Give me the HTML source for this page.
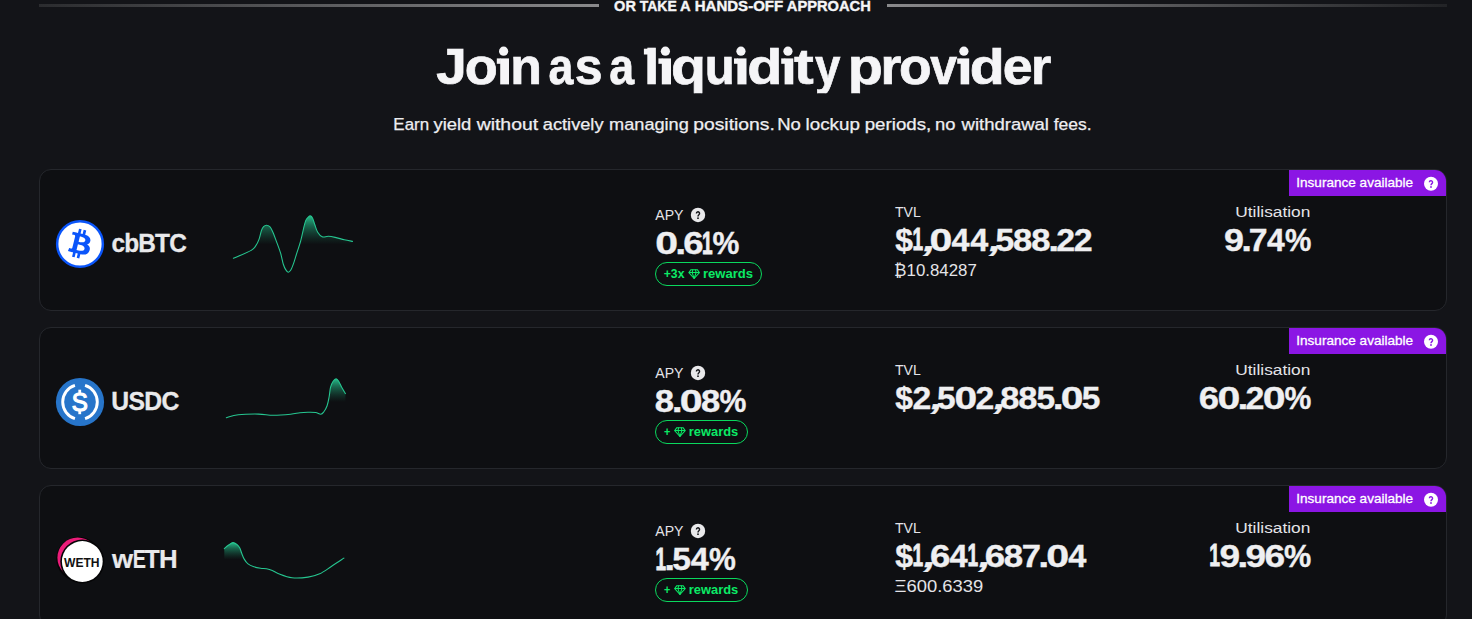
<!DOCTYPE html>
<html><head><meta charset="utf-8">
<style>
*{box-sizing:border-box;margin:0;padding:0}
html,body{width:1472px;height:619px;overflow:hidden;background:#131418;font-family:"Liberation Sans",sans-serif;color:#f2f2f4}
.t{position:absolute;white-space:pre;line-height:1;transform-origin:0 0;font-family:"Liberation Sans",sans-serif}
.abs{position:absolute}
.divl{position:absolute;top:4px;height:3px}
.card{position:absolute;left:39px;width:1408px;height:142px;background:#0e0f12;border:1px solid #25272c;border-radius:12px}
.ins{position:absolute;left:1289px;width:157px;height:26px;background:#8b16e4;border-top-right-radius:11px}
.q{position:absolute;border-radius:50%;background:#ededef}
.pill{position:absolute;height:24.5px;border:1.3px solid #0ad85d;border-radius:12.5px}
svg{position:absolute;overflow:visible}
</style></head><body>
<div class="divl" style="left:39px;width:560px;background:linear-gradient(90deg,#2b2c2f,#8a8a8c)"></div>
<div class="divl" style="left:887px;width:560px;background:linear-gradient(90deg,#8a8a8c,#222326)"></div>

<div class="card" style="top:169px"></div>
<div class="card" style="top:327px"></div>
<div class="card" style="top:485px"></div>
<div class="ins" style="top:170px"></div>
<div class="ins" style="top:328px"></div>
<div class="ins" style="top:486px"></div>
<div class="pill" style="left:654.9px;top:261.7px;width:107.1px"></div><div class="pill" style="left:654.7px;top:419.7px;width:92.9px"></div><div class="pill" style="left:654.7px;top:577.7px;width:92.9px"></div><svg width="1472" height="619" viewBox="0 0 1472 619" style="left:0;top:0">
<defs><linearGradient id="g1" gradientUnits="userSpaceOnUse" x1="0" y1="215.90" x2="0" y2="244.50"><stop offset="0" stop-color="#2bd49c" stop-opacity="0.88"/><stop offset="0.35" stop-color="#1f9f74" stop-opacity="0.6"/><stop offset="1" stop-color="#17694e" stop-opacity="0"/></linearGradient></defs><path d="M233.40,258.30 C236.37,256.98 247.48,252.47 251.20,250.40 C254.92,248.33 254.38,247.78 255.70,245.90 C257.02,244.02 258.15,241.65 259.10,239.10 C260.05,236.55 260.65,232.67 261.40,230.60 C262.15,228.53 262.77,227.60 263.60,226.70 C264.43,225.80 265.37,225.20 266.40,225.20 C267.43,225.20 268.75,225.62 269.80,226.70 C270.85,227.78 271.57,229.17 272.70,231.70 C273.83,234.23 275.28,238.32 276.60,241.90 C277.92,245.48 279.47,249.43 280.60,253.20 C281.73,256.97 282.55,261.77 283.40,264.50 C284.25,267.23 284.90,268.32 285.70,269.60 C286.50,270.88 287.35,272.13 288.20,272.20 C289.05,272.27 289.90,271.47 290.80,270.00 C291.70,268.53 292.78,265.63 293.60,263.40 C294.42,261.17 294.52,260.37 295.70,256.60 C296.88,252.83 299.38,245.50 300.70,240.80 C302.02,236.10 302.75,231.80 303.60,228.40 C304.45,225.00 305.05,222.25 305.80,220.40 C306.55,218.55 307.33,218.05 308.10,217.30 C308.87,216.55 309.65,215.75 310.40,215.90 C311.15,216.05 311.85,216.68 312.60,218.20 C313.35,219.72 314.05,222.65 314.90,225.00 C315.75,227.35 316.48,230.33 317.70,232.30 C318.92,234.27 320.42,236.13 322.20,236.80 C323.98,237.47 326.23,236.20 328.40,236.30 C330.57,236.40 332.55,236.83 335.20,237.40 C337.85,237.97 341.42,239.03 344.30,239.70 C347.18,240.37 351.13,241.12 352.50,241.40 L352.50,272.20 L233.40,272.20 Z" fill="url(#g1)"/><path d="M233.40,258.30 C236.37,256.98 247.48,252.47 251.20,250.40 C254.92,248.33 254.38,247.78 255.70,245.90 C257.02,244.02 258.15,241.65 259.10,239.10 C260.05,236.55 260.65,232.67 261.40,230.60 C262.15,228.53 262.77,227.60 263.60,226.70 C264.43,225.80 265.37,225.20 266.40,225.20 C267.43,225.20 268.75,225.62 269.80,226.70 C270.85,227.78 271.57,229.17 272.70,231.70 C273.83,234.23 275.28,238.32 276.60,241.90 C277.92,245.48 279.47,249.43 280.60,253.20 C281.73,256.97 282.55,261.77 283.40,264.50 C284.25,267.23 284.90,268.32 285.70,269.60 C286.50,270.88 287.35,272.13 288.20,272.20 C289.05,272.27 289.90,271.47 290.80,270.00 C291.70,268.53 292.78,265.63 293.60,263.40 C294.42,261.17 294.52,260.37 295.70,256.60 C296.88,252.83 299.38,245.50 300.70,240.80 C302.02,236.10 302.75,231.80 303.60,228.40 C304.45,225.00 305.05,222.25 305.80,220.40 C306.55,218.55 307.33,218.05 308.10,217.30 C308.87,216.55 309.65,215.75 310.40,215.90 C311.15,216.05 311.85,216.68 312.60,218.20 C313.35,219.72 314.05,222.65 314.90,225.00 C315.75,227.35 316.48,230.33 317.70,232.30 C318.92,234.27 320.42,236.13 322.20,236.80 C323.98,237.47 326.23,236.20 328.40,236.30 C330.57,236.40 332.55,236.83 335.20,237.40 C337.85,237.97 341.42,239.03 344.30,239.70 C347.18,240.37 351.13,241.12 352.50,241.40" fill="none" stroke="#26c690" stroke-width="1.08" stroke-linejoin="round" stroke-linecap="round"/>
<defs><linearGradient id="g2" gradientUnits="userSpaceOnUse" x1="0" y1="378.80" x2="0" y2="402.00"><stop offset="0" stop-color="#2bd49c" stop-opacity="0.88"/><stop offset="0.35" stop-color="#1f9f74" stop-opacity="0.6"/><stop offset="1" stop-color="#17694e" stop-opacity="0"/></linearGradient></defs><path d="M226.30,417.70 C228.30,417.22 232.92,415.40 238.30,414.80 C243.68,414.20 252.80,414.03 258.60,414.10 C264.40,414.17 267.77,415.18 273.10,415.20 C278.43,415.22 286.12,414.62 290.60,414.20 C295.08,413.78 297.13,413.02 300.00,412.70 C302.87,412.38 305.22,412.33 307.80,412.30 C310.38,412.27 313.33,412.18 315.50,412.50 C317.67,412.82 319.43,414.28 320.80,414.20 C322.17,414.12 322.65,413.42 323.70,412.00 C324.75,410.58 326.20,408.20 327.10,405.70 C328.00,403.20 328.53,400.07 329.10,397.00 C329.67,393.93 329.85,389.88 330.50,387.30 C331.15,384.72 332.07,382.92 333.00,381.50 C333.93,380.08 335.13,378.80 336.10,378.80 C337.07,378.80 337.87,380.08 338.80,381.50 C339.73,382.92 340.60,385.28 341.70,387.30 C342.80,389.32 344.78,392.55 345.40,393.60 L345.40,417.70 L226.30,417.70 Z" fill="url(#g2)"/><path d="M226.30,417.70 C228.30,417.22 232.92,415.40 238.30,414.80 C243.68,414.20 252.80,414.03 258.60,414.10 C264.40,414.17 267.77,415.18 273.10,415.20 C278.43,415.22 286.12,414.62 290.60,414.20 C295.08,413.78 297.13,413.02 300.00,412.70 C302.87,412.38 305.22,412.33 307.80,412.30 C310.38,412.27 313.33,412.18 315.50,412.50 C317.67,412.82 319.43,414.28 320.80,414.20 C322.17,414.12 322.65,413.42 323.70,412.00 C324.75,410.58 326.20,408.20 327.10,405.70 C328.00,403.20 328.53,400.07 329.10,397.00 C329.67,393.93 329.85,389.88 330.50,387.30 C331.15,384.72 332.07,382.92 333.00,381.50 C333.93,380.08 335.13,378.80 336.10,378.80 C337.07,378.80 337.87,380.08 338.80,381.50 C339.73,382.92 340.60,385.28 341.70,387.30 C342.80,389.32 344.78,392.55 345.40,393.60" fill="none" stroke="#26c690" stroke-width="1.08" stroke-linejoin="round" stroke-linecap="round"/>
<defs><linearGradient id="g3" gradientUnits="userSpaceOnUse" x1="0" y1="542.60" x2="0" y2="559.50"><stop offset="0" stop-color="#2bd49c" stop-opacity="0.88"/><stop offset="0.35" stop-color="#1f9f74" stop-opacity="0.6"/><stop offset="1" stop-color="#17694e" stop-opacity="0"/></linearGradient></defs><path d="M224.30,548.60 C225.03,548.00 227.25,546.00 228.70,545.00 C230.15,544.00 231.63,542.68 233.00,542.60 C234.37,542.52 235.77,543.62 236.90,544.50 C238.03,545.38 239.00,546.43 239.80,547.90 C240.60,549.37 240.97,551.43 241.70,553.30 C242.43,555.17 243.15,557.33 244.20,559.10 C245.25,560.87 246.38,562.62 248.00,563.90 C249.62,565.18 251.80,566.07 253.90,566.80 C256.00,567.53 258.50,567.97 260.60,568.30 C262.70,568.63 264.55,568.43 266.50,568.80 C268.45,569.17 270.38,569.73 272.30,570.50 C274.22,571.27 274.72,572.20 278.00,573.40 C281.28,574.60 287.00,577.08 292.00,577.70 C297.00,578.32 303.38,577.75 308.00,577.10 C312.62,576.45 315.82,575.57 319.70,573.80 C323.58,572.03 327.27,569.12 331.30,566.50 C335.33,563.88 341.80,559.50 343.90,558.10 L343.90,577.70 L224.30,577.70 Z" fill="url(#g3)"/><path d="M224.30,548.60 C225.03,548.00 227.25,546.00 228.70,545.00 C230.15,544.00 231.63,542.68 233.00,542.60 C234.37,542.52 235.77,543.62 236.90,544.50 C238.03,545.38 239.00,546.43 239.80,547.90 C240.60,549.37 240.97,551.43 241.70,553.30 C242.43,555.17 243.15,557.33 244.20,559.10 C245.25,560.87 246.38,562.62 248.00,563.90 C249.62,565.18 251.80,566.07 253.90,566.80 C256.00,567.53 258.50,567.97 260.60,568.30 C262.70,568.63 264.55,568.43 266.50,568.80 C268.45,569.17 270.38,569.73 272.30,570.50 C274.22,571.27 274.72,572.20 278.00,573.40 C281.28,574.60 287.00,577.08 292.00,577.70 C297.00,578.32 303.38,577.75 308.00,577.10 C312.62,576.45 315.82,575.57 319.70,573.80 C323.58,572.03 327.27,569.12 331.30,566.50 C335.33,563.88 341.80,559.50 343.90,558.10" fill="none" stroke="#26c690" stroke-width="1.08" stroke-linejoin="round" stroke-linecap="round"/>
<circle cx="80" cy="244" r="22.85" fill="#fff" stroke="#0a55fa" stroke-width="2.5"/>
<path transform="translate(56.48,220.48) scale(0.735)" d="m46.103 27.444c0.637-4.258-2.605-6.547-7.038-8.074l1.438-5.768-3.511-0.875-1.4 5.616c-0.923-0.23-1.871-0.447-2.813-0.662l1.41-5.653-3.509-0.875-1.439 5.766c-0.764-0.174-1.514-0.346-2.242-0.527l0.004-0.018-4.842-1.209-0.934 3.75s2.605 0.597 2.55 0.634c1.422 0.355 1.679 1.296 1.636 2.042l-1.638 6.571c0.098 0.025 0.225 0.061 0.365 0.117-0.117-0.029-0.242-0.061-0.371-0.092l-2.296 9.205c-0.174 0.432-0.615 1.08-1.609 0.834 0.035 0.051-2.552-0.637-2.552-0.637l-1.743 4.019 4.569 1.139c0.85 0.213 1.683 0.436 2.503 0.646l-1.453 5.834 3.507 0.875 1.439-5.772c0.958 0.26 1.888 0.5 2.798 0.726l-1.434 5.745 3.511 0.875 1.453-5.823c5.987 1.133 10.489 0.676 12.384-4.739 1.527-4.36-0.076-6.875-3.226-8.515 2.294-0.529 4.022-2.038 4.483-5.155zm-8.022 11.249c-1.085 4.36-8.426 2.003-10.806 1.412l1.928-7.729c2.38 0.594 10.012 1.77 8.878 6.317zm1.086-11.312c-0.990 3.966-7.100 1.951-9.082 1.457l1.748-7.010c1.982 0.494 8.365 1.416 7.334 5.553z" fill="#0a55fa"/>
<circle cx="80" cy="402" r="24.1" fill="#2775ca"/>
<path d="M74.94,385.46 A17.30,17.30 0 0 0 74.94,418.54" fill="none" stroke="#fff" stroke-width="2.9" stroke-linecap="butt"/>
<path d="M85.06,385.46 A17.30,17.30 0 0 1 85.06,418.54" fill="none" stroke="#fff" stroke-width="2.9" stroke-linecap="butt"/>
<text transform="translate(79.75,411.35) scale(0.93,1)" x="0" y="0" text-anchor="middle" font-family="Liberation Sans" font-size="26" fill="#fff" stroke="#fff" stroke-width="1.2">S</text>
<rect x="78.35" y="389.7" width="2.8" height="3.6" fill="#fff"/><rect x="78.35" y="410.6" width="2.8" height="3.6" fill="#fff"/>
<circle cx="78.6" cy="559" r="22.3" fill="#050506"/>
<circle cx="77.6" cy="557.7" r="20.2" fill="#ec1c79"/>
<circle cx="82.3" cy="561.5" r="22.0" fill="#050506"/>
<circle cx="82.3" cy="561.5" r="20.4" fill="#fff"/>
<text x="81.8" y="566.6" text-anchor="middle" font-family="Liberation Sans" font-weight="bold" font-size="13.6" fill="#111" textLength="35.6" lengthAdjust="spacingAndGlyphs">WETH</text>
<circle cx="698.00" cy="214.95" r="7.20" fill="#e9e9eb"/><path d="M696.45,213.40 A1.55,1.55 0 1 1 699.05,214.55 C698.30,215.15 698.00,215.40 698.00,216.40" fill="none" stroke="#15161a" stroke-width="1.45"/><circle cx="698.00" cy="218.15" r="0.9" fill="#15161a"/>
<circle cx="1431.00" cy="183.80" r="7.00" fill="#ffffff"/><path d="M1429.45,182.25 A1.55,1.55 0 1 1 1432.05,183.40 C1431.30,184.00 1431.00,184.25 1431.00,185.25" fill="none" stroke="#8b16e4" stroke-width="1.45"/><circle cx="1431.00" cy="187.00" r="0.9" fill="#8b16e4"/>
<circle cx="698.00" cy="372.95" r="7.20" fill="#e9e9eb"/><path d="M696.45,371.40 A1.55,1.55 0 1 1 699.05,372.55 C698.30,373.15 698.00,373.40 698.00,374.40" fill="none" stroke="#15161a" stroke-width="1.45"/><circle cx="698.00" cy="376.15" r="0.9" fill="#15161a"/>
<circle cx="1431.00" cy="341.80" r="7.00" fill="#ffffff"/><path d="M1429.45,340.25 A1.55,1.55 0 1 1 1432.05,341.40 C1431.30,342.00 1431.00,342.25 1431.00,343.25" fill="none" stroke="#8b16e4" stroke-width="1.45"/><circle cx="1431.00" cy="345.00" r="0.9" fill="#8b16e4"/>
<circle cx="698.00" cy="530.95" r="7.20" fill="#e9e9eb"/><path d="M696.45,529.40 A1.55,1.55 0 1 1 699.05,530.55 C698.30,531.15 698.00,531.40 698.00,532.40" fill="none" stroke="#15161a" stroke-width="1.45"/><circle cx="698.00" cy="534.15" r="0.9" fill="#15161a"/>
<circle cx="1431.00" cy="499.80" r="7.00" fill="#ffffff"/><path d="M1429.45,498.25 A1.55,1.55 0 1 1 1432.05,499.40 C1431.30,500.00 1431.00,500.25 1431.00,501.25" fill="none" stroke="#8b16e4" stroke-width="1.45"/><circle cx="1431.00" cy="503.00" r="0.9" fill="#8b16e4"/>
<rect x="500.2" y="58.4" width="8.8" height="26.0" fill="#f5f5f7"/>
<rect x="496.8" y="58.4" width="4" height="5.4" fill="#f5f5f7"/>
<circle cx="503.60" cy="51.2" r="4.6" fill="#f5f5f7"/>
<rect x="661.8" y="58.4" width="9.2" height="26.0" fill="#f5f5f7"/>
<rect x="658.4" y="58.4" width="4" height="5.4" fill="#f5f5f7"/>
<circle cx="665.40" cy="51.2" r="4.6" fill="#f5f5f7"/>
<rect x="737.4" y="58.4" width="9.1" height="26.0" fill="#f5f5f7"/>
<rect x="734.0" y="58.4" width="4" height="5.4" fill="#f5f5f7"/>
<circle cx="740.95" cy="51.2" r="4.6" fill="#f5f5f7"/>
<rect x="784.6" y="58.4" width="8.7" height="26.0" fill="#f5f5f7"/>
<rect x="781.2" y="58.4" width="4" height="5.4" fill="#f5f5f7"/>
<circle cx="787.95" cy="51.2" r="4.6" fill="#f5f5f7"/>
<rect x="960.6" y="58.4" width="8.6" height="26.0" fill="#f5f5f7"/>
<rect x="957.2" y="58.4" width="4" height="5.4" fill="#f5f5f7"/>
<circle cx="963.90" cy="51.2" r="4.6" fill="#f5f5f7"/>
<rect x="643.9" y="48.7" width="5" height="5.8" fill="#f5f5f7"/>
<g transform="translate(688.40,269.00) scale(0.8200)" fill="none" stroke="#0bea66" stroke-width="1.25" stroke-linejoin="round"><path d="M3.2,0.8 L10.8,0.8 L13.4,4.4 L7,11.6 L0.6,4.4 Z"/><path d="M0.6,4.4 L13.4,4.4 M4.6,4.4 L7,11.6 L9.4,4.4 M4.6,4.4 L5.4,0.8 M9.4,4.4 L8.6,0.8"/></g><g transform="translate(674.20,427.00) scale(0.8200)" fill="none" stroke="#0bea66" stroke-width="1.25" stroke-linejoin="round"><path d="M3.2,0.8 L10.8,0.8 L13.4,4.4 L7,11.6 L0.6,4.4 Z"/><path d="M0.6,4.4 L13.4,4.4 M4.6,4.4 L7,11.6 L9.4,4.4 M4.6,4.4 L5.4,0.8 M9.4,4.4 L8.6,0.8"/></g><g transform="translate(674.20,585.00) scale(0.8200)" fill="none" stroke="#0bea66" stroke-width="1.25" stroke-linejoin="round"><path d="M3.2,0.8 L10.8,0.8 L13.4,4.4 L7,11.6 L0.6,4.4 Z"/><path d="M0.6,4.4 L13.4,4.4 M4.6,4.4 L7,11.6 L9.4,4.4 M4.6,4.4 L5.4,0.8 M9.4,4.4 L8.6,0.8"/></g></svg>
<span class="t" style="left:614px;top:-2px;font-size:15.14px;font-weight:700;color:#f5f5f7;-webkit-text-stroke:0.40px #f5f5f7;transform:translate(0.11px,0) scale(0.9588,1.0000)">OR</span>
<span class="t" style="left:639px;top:-2px;font-size:15.14px;font-weight:700;color:#f5f5f7;-webkit-text-stroke:0.40px #f5f5f7;transform:translate(0.74px,0) scale(0.9226,1.0000)">TAKE</span>
<span class="t" style="left:680px;top:-2px;font-size:15.14px;font-weight:700;color:#f5f5f7;-webkit-text-stroke:0.40px #f5f5f7;transform:translate(0.10px,0) scale(0.9724,1.0000)">A</span>
<span class="t" style="left:694px;top:-2px;font-size:15.14px;font-weight:700;color:#f5f5f7;-webkit-text-stroke:0.40px #f5f5f7;transform:translate(0.70px,0) scale(0.9935,1.0000)">HANDS-OFF</span>
<span class="t" style="left:786px;top:-2px;font-size:15.14px;font-weight:700;color:#f5f5f7;-webkit-text-stroke:0.40px #f5f5f7;transform:translate(0.80px,0) scale(0.9697,1.0000)">APPROACH</span>
<span class="t" style="left:436px;top:42px;font-size:50.29px;font-weight:700;color:#f5f5f7;-webkit-text-stroke:0.70px #f5f5f7;transform:translate(0.13px,0) scale(1.0910,1.0000)">J</span>
<span class="t" style="left:464px;top:42px;font-size:50.29px;font-weight:700;color:#f5f5f7;-webkit-text-stroke:0.70px #f5f5f7;transform-origin:0 42.00px;transform:translate(0.65px,0) scale(1.0755,1.0400)">o</span>
<span class="t" style="left:510px;top:42px;font-size:50.29px;font-weight:700;color:#f5f5f7;-webkit-text-stroke:0.70px #f5f5f7;transform-origin:0 42.00px;transform:translate(0.15px,0) scale(1.0299,1.0400)">n</span>
<span class="t" style="left:548px;top:42px;font-size:50.29px;font-weight:700;color:#f5f5f7;-webkit-text-stroke:0.70px #f5f5f7;transform-origin:0 42.00px;transform:translate(0.62px,0) scale(0.8886,1.0400)">a</span>
<span class="t" style="left:574px;top:42px;font-size:50.29px;font-weight:700;color:#f5f5f7;-webkit-text-stroke:0.70px #f5f5f7;transform-origin:0 42.00px;transform:translate(0.75px,0) scale(0.9944,1.0400)">s</span>
<span class="t" style="left:609px;top:42px;font-size:50.29px;font-weight:700;color:#f5f5f7;-webkit-text-stroke:0.70px #f5f5f7;transform-origin:0 42.00px;transform:translate(0.22px,0) scale(0.8886,1.0400)">a</span>
<span class="t" style="left:644px;top:42px;font-size:50.29px;font-weight:700;color:#f5f5f7;-webkit-text-stroke:0.70px #f5f5f7;transform:translate(0.09px,0) scale(1.0918,1.0000)">l</span>
<span class="t" style="left:671px;top:42px;font-size:50.29px;font-weight:700;color:#f5f5f7;-webkit-text-stroke:0.70px #f5f5f7;transform-origin:0 42.00px;clip-path:inset(-9px -9px -0.65px -9px);transform:translate(0.11px,0) scale(1.1386,1.0400)">q</span>
<span class="t" style="left:704px;top:42px;font-size:50.29px;font-weight:700;color:#f5f5f7;-webkit-text-stroke:0.70px #f5f5f7;transform-origin:0 42.00px;transform:translate(0.80px,0) scale(0.9747,1.0400)">u</span>
<span class="t" style="left:747px;top:42px;font-size:50.29px;font-weight:700;color:#f5f5f7;-webkit-text-stroke:0.70px #f5f5f7;transform:translate(0.30px,0) scale(1.1424,1.0000)">d</span>
<span class="t" style="left:794px;top:42px;font-size:50.29px;font-weight:700;color:#f5f5f7;-webkit-text-stroke:0.70px #f5f5f7;transform:translate(0.12px,0) scale(1.1791,1.0000)">t</span>
<span class="t" style="left:814px;top:42px;font-size:50.29px;font-weight:700;color:#f5f5f7;-webkit-text-stroke:0.70px #f5f5f7;transform-origin:0 42.00px;clip-path:inset(-9px -9px -0.65px -9px);transform:translate(0.92px,0) scale(0.9078,1.0400)">y</span>
<span class="t" style="left:847px;top:42px;font-size:50.29px;font-weight:700;color:#f5f5f7;-webkit-text-stroke:0.70px #f5f5f7;transform-origin:0 42.00px;clip-path:inset(-9px -9px -0.65px -9px);transform:translate(0.75px,0) scale(1.1424,1.0400)">p</span>
<span class="t" style="left:880px;top:42px;font-size:50.29px;font-weight:700;color:#f5f5f7;-webkit-text-stroke:0.70px #f5f5f7;transform-origin:0 42.00px;transform:translate(0.46px,0) scale(1.0659,1.0400)">r</span>
<span class="t" style="left:898px;top:42px;font-size:50.29px;font-weight:700;color:#f5f5f7;-webkit-text-stroke:0.70px #f5f5f7;transform-origin:0 42.00px;transform:translate(0.97px,0) scale(1.0614,1.0400)">o</span>
<span class="t" style="left:930px;top:42px;font-size:50.29px;font-weight:700;color:#f5f5f7;-webkit-text-stroke:0.70px #f5f5f7;transform-origin:0 42.00px;transform:translate(0.13px,0) scale(0.9563,1.0400)">v</span>
<span class="t" style="left:969px;top:42px;font-size:50.29px;font-weight:700;color:#f5f5f7;-webkit-text-stroke:0.70px #f5f5f7;transform:translate(0.81px,0) scale(1.1386,1.0000)">d</span>
<span class="t" style="left:1002px;top:42px;font-size:50.29px;font-weight:700;color:#f5f5f7;-webkit-text-stroke:0.70px #f5f5f7;transform-origin:0 42.00px;transform:translate(0.86px,0) scale(1.0679,1.0400)">e</span>
<span class="t" style="left:1030px;top:42px;font-size:50.29px;font-weight:700;color:#f5f5f7;-webkit-text-stroke:0.70px #f5f5f7;transform-origin:0 42.00px;transform:translate(0.94px,0) scale(1.0362,1.0400)">r</span>
<span class="t" style="left:393px;top:116px;font-size:16.45px;font-weight:400;color:#eeeef1;-webkit-text-stroke:0.25px #eeeef1;transform:translate(0.37px,0) scale(1.0288,1.0000)">Earn</span>
<span class="t" style="left:433px;top:116px;font-size:16.45px;font-weight:400;color:#eeeef1;-webkit-text-stroke:0.25px #eeeef1;transform:translate(0.44px,0) scale(1.1219,1.0000)">yield</span>
<span class="t" style="left:476px;top:116px;font-size:16.45px;font-weight:400;color:#eeeef1;-webkit-text-stroke:0.25px #eeeef1;transform:translate(0.64px,0) scale(1.1813,1.0000)">without</span>
<span class="t" style="left:542px;top:116px;font-size:16.45px;font-weight:400;color:#eeeef1;-webkit-text-stroke:0.25px #eeeef1;transform:translate(0.81px,0) scale(1.1076,1.0000)">actively</span>
<span class="t" style="left:609px;top:116px;font-size:16.45px;font-weight:400;color:#eeeef1;-webkit-text-stroke:0.25px #eeeef1;transform:translate(0.05px,0) scale(1.1050,1.0000)">managing</span>
<span class="t" style="left:693px;top:116px;font-size:16.45px;font-weight:400;color:#eeeef1;-webkit-text-stroke:0.25px #eeeef1;transform:translate(0.19px,0) scale(1.1766,1.0000)">positions.</span>
<span class="t" style="left:777px;top:116px;font-size:16.45px;font-weight:400;color:#eeeef1;-webkit-text-stroke:0.25px #eeeef1;transform:translate(0.16px,0) scale(1.1256,1.0000)">No</span>
<span class="t" style="left:805px;top:116px;font-size:16.45px;font-weight:400;color:#eeeef1;-webkit-text-stroke:0.25px #eeeef1;transform:translate(0.62px,0) scale(1.1424,1.0000)">lockup</span>
<span class="t" style="left:864px;top:116px;font-size:16.45px;font-weight:400;color:#eeeef1;-webkit-text-stroke:0.25px #eeeef1;transform:translate(0.72px,0) scale(1.1377,1.0000)">periods,</span>
<span class="t" style="left:935px;top:116px;font-size:16.45px;font-weight:400;color:#eeeef1;-webkit-text-stroke:0.25px #eeeef1;transform:translate(0.03px,0) scale(1.1199,1.0000)">no</span>
<span class="t" style="left:961px;top:116px;font-size:16.45px;font-weight:400;color:#eeeef1;-webkit-text-stroke:0.25px #eeeef1;transform:translate(0.53px,0) scale(1.1258,1.0000)">withdrawal</span>
<span class="t" style="left:1053px;top:116px;font-size:16.45px;font-weight:400;color:#eeeef1;-webkit-text-stroke:0.25px #eeeef1;transform:translate(0.66px,0) scale(1.0640,1.0000)">fees.</span>
<span class="t" style="left:111px;top:231px;font-size:25.43px;font-weight:700;color:#e9e9eb;-webkit-text-stroke:0.30px #e9e9eb;letter-spacing:-0.862px;transform:translate(0.51px,0) scale(0.9591,1.0000)">cbBTC</span>
<span class="t" style="left:655px;top:208px;font-size:14.64px;font-weight:400;color:#e4e4e8;transform:translate(0.30px,0) scale(0.9640,1.0000)">APY</span>
<span class="t" style="left:655px;top:228px;font-size:31.21px;font-weight:700;color:#efeff1;-webkit-text-stroke:0.35px #efeff1;transform:translate(0.20px,0) scale(1.3154,1.0000)">0</span>
<span class="t" style="left:675px;top:228px;font-size:31.21px;font-weight:700;color:#efeff1;-webkit-text-stroke:0.35px #efeff1;transform:translate(0.13px,0) scale(1.2583,1.0000)">.</span>
<span class="t" style="left:683px;top:228px;font-size:31.21px;font-weight:700;color:#efeff1;-webkit-text-stroke:0.35px #efeff1;transform:translate(0.21px,0) scale(1.1699,1.0000)">6</span>
<span class="t" style="left:702px;top:228px;font-size:30.43px;font-weight:700;color:#efeff1;-webkit-text-stroke:0.90px #efeff1;transform:translate(0.03px,0) scale(0.6247,1.0000)">1</span>
<span class="t" style="left:712px;top:228px;font-size:31.21px;font-weight:700;color:#efeff1;-webkit-text-stroke:0.35px #efeff1;transform:translate(0.45px,0) scale(0.9679,1.0000)">%</span>
<span class="t" style="left:895px;top:205px;font-size:14.35px;font-weight:400;color:#e4e4e8;transform:translate(0.02px,0) scale(0.9784,1.0000)">TVL</span>
<span class="t" style="left:895px;top:225px;font-size:31.64px;font-weight:700;color:#efeff1;-webkit-text-stroke:0.35px #efeff1;transform:translate(0.16px,0) scale(1.0091,1.0000)">$</span>
<span class="t" style="left:912px;top:225px;font-size:30.86px;font-weight:700;color:#efeff1;-webkit-text-stroke:0.90px #efeff1;transform:translate(0.52px,0) scale(0.6160,1.0000)">1</span>
<span class="t" style="left:920px;top:225px;font-size:31.64px;font-weight:700;color:#efeff1;-webkit-text-stroke:0.35px #efeff1;transform-origin:0 27.50px;transform:translate(0.88px,0) skewX(-16deg) scale(1.4427,1.0000)">,</span>
<span class="t" style="left:929px;top:225px;font-size:31.64px;font-weight:700;color:#efeff1;-webkit-text-stroke:0.35px #efeff1;transform:translate(0.58px,0) scale(1.2968,1.0000)">0</span>
<span class="t" style="left:951px;top:225px;font-size:31.64px;font-weight:700;color:#efeff1;-webkit-text-stroke:0.35px #efeff1;transform:translate(0.50px,0) scale(1.0245,1.0000)">4</span>
<span class="t" style="left:970px;top:225px;font-size:31.64px;font-weight:700;color:#efeff1;-webkit-text-stroke:0.35px #efeff1;transform:translate(0.18px,0) scale(1.0245,1.0000)">4</span>
<span class="t" style="left:986px;top:225px;font-size:31.64px;font-weight:700;color:#efeff1;-webkit-text-stroke:0.35px #efeff1;transform-origin:0 27.50px;transform:translate(0.52px,0) skewX(-16deg) scale(1.4427,1.0000)">,</span>
<span class="t" style="left:995px;top:225px;font-size:31.64px;font-weight:700;color:#efeff1;-webkit-text-stroke:0.35px #efeff1;transform:translate(0.39px,0) scale(1.0636,1.0000)">5</span>
<span class="t" style="left:1013px;top:225px;font-size:31.64px;font-weight:700;color:#efeff1;-webkit-text-stroke:0.35px #efeff1;transform:translate(0.06px,0) scale(1.0942,1.0000)">8</span>
<span class="t" style="left:1031px;top:225px;font-size:31.64px;font-weight:700;color:#efeff1;-webkit-text-stroke:0.35px #efeff1;transform:translate(0.25px,0) scale(1.0942,1.0000)">8</span>
<span class="t" style="left:1048px;top:225px;font-size:31.64px;font-weight:700;color:#efeff1;-webkit-text-stroke:0.35px #efeff1;transform:translate(0.14px,0) scale(1.2413,1.0000)">.</span>
<span class="t" style="left:1056px;top:225px;font-size:31.64px;font-weight:700;color:#efeff1;-webkit-text-stroke:0.35px #efeff1;transform:translate(0.27px,0) scale(1.0724,1.0000)">2</span>
<span class="t" style="left:1073px;top:225px;font-size:31.64px;font-weight:700;color:#efeff1;-webkit-text-stroke:0.35px #efeff1;transform:translate(0.77px,0) scale(1.0724,1.0000)">2</span>
<span class="t" style="left:894px;top:263px;font-size:15.71px;font-weight:400;color:#e4e4e8;transform:translate(0.12px,0) scale(1.0726,1.0000)">₿10.84287</span>
<span class="t" style="left:1235px;top:204px;font-size:15.07px;font-weight:400;color:#e4e4e8;transform:translate(0.29px,0) scale(1.1494,1.0000)">Utilisation</span>
<span class="t" style="left:1223px;top:225px;font-size:31.64px;font-weight:700;color:#efeff1;-webkit-text-stroke:0.35px #efeff1;transform:translate(0.92px,0) scale(1.1340,1.0000)">9</span>
<span class="t" style="left:1241px;top:225px;font-size:31.64px;font-weight:700;color:#efeff1;-webkit-text-stroke:0.35px #efeff1;transform:translate(0.16px,0) scale(1.2205,1.0000)">.</span>
<span class="t" style="left:1248px;top:225px;font-size:31.64px;font-weight:700;color:#efeff1;-webkit-text-stroke:0.35px #efeff1;transform:translate(0.80px,0) scale(1.0696,1.0000)">7</span>
<span class="t" style="left:1266px;top:225px;font-size:31.64px;font-weight:700;color:#efeff1;-webkit-text-stroke:0.35px #efeff1;transform:translate(0.93px,0) scale(1.0073,1.0000)">4</span>
<span class="t" style="left:1285px;top:225px;font-size:31.64px;font-weight:700;color:#efeff1;-webkit-text-stroke:0.35px #efeff1;transform:translate(0.01px,0) scale(0.9381,1.0000)">%</span>
<span class="t" style="left:1296px;top:177px;font-size:12.90px;font-weight:400;color:#ffffff;-webkit-text-stroke:0.30px #ffffff;transform:translate(0.24px,0) scale(1.0526,1.0000)">Insurance available</span>
<span class="t" style="left:111px;top:389px;font-size:25.43px;font-weight:700;color:#e9e9eb;-webkit-text-stroke:0.30px #e9e9eb;letter-spacing:-0.680px;transform:translate(0.36px,0) scale(0.9718,1.0000)">USDC</span>
<span class="t" style="left:655px;top:366px;font-size:14.64px;font-weight:400;color:#e4e4e8;transform:translate(0.30px,0) scale(0.9640,1.0000)">APY</span>
<span class="t" style="left:654px;top:386px;font-size:31.21px;font-weight:700;color:#efeff1;-webkit-text-stroke:0.35px #efeff1;transform:translate(0.86px,0) scale(1.1096,1.0000)">8</span>
<span class="t" style="left:671px;top:386px;font-size:31.21px;font-weight:700;color:#efeff1;-webkit-text-stroke:0.35px #efeff1;transform:translate(0.76px,0) scale(1.2581,1.0000)">.</span>
<span class="t" style="left:679px;top:386px;font-size:31.21px;font-weight:700;color:#efeff1;-webkit-text-stroke:0.35px #efeff1;transform:translate(0.72px,0) scale(1.3151,1.0000)">0</span>
<span class="t" style="left:700px;top:386px;font-size:31.21px;font-weight:700;color:#efeff1;-webkit-text-stroke:0.35px #efeff1;transform:translate(0.94px,0) scale(1.1096,1.0000)">8</span>
<span class="t" style="left:719px;top:386px;font-size:31.21px;font-weight:700;color:#efeff1;-webkit-text-stroke:0.35px #efeff1;transform:translate(0.55px,0) scale(0.9678,1.0000)">%</span>
<span class="t" style="left:895px;top:363px;font-size:14.35px;font-weight:400;color:#e4e4e8;transform:translate(0.02px,0) scale(0.9784,1.0000)">TVL</span>
<span class="t" style="left:895px;top:383px;font-size:31.64px;font-weight:700;color:#efeff1;-webkit-text-stroke:0.35px #efeff1;transform:translate(0.16px,0) scale(1.0042,1.0000)">$</span>
<span class="t" style="left:912px;top:383px;font-size:31.64px;font-weight:700;color:#efeff1;-webkit-text-stroke:0.35px #efeff1;transform:translate(0.47px,0) scale(1.0672,1.0000)">2</span>
<span class="t" style="left:928px;top:383px;font-size:31.64px;font-weight:700;color:#efeff1;-webkit-text-stroke:0.35px #efeff1;transform-origin:0 27.50px;transform:translate(0.24px,0) skewX(-16deg) scale(1.4357,1.0000)">,</span>
<span class="t" style="left:937px;top:383px;font-size:31.64px;font-weight:700;color:#efeff1;-webkit-text-stroke:0.35px #efeff1;transform:translate(0.07px,0) scale(1.0585,1.0000)">5</span>
<span class="t" style="left:954px;top:383px;font-size:31.64px;font-weight:700;color:#efeff1;-webkit-text-stroke:0.35px #efeff1;transform:translate(0.50px,0) scale(1.2905,1.0000)">0</span>
<span class="t" style="left:975px;top:383px;font-size:31.64px;font-weight:700;color:#efeff1;-webkit-text-stroke:0.35px #efeff1;transform:translate(0.62px,0) scale(1.0672,1.0000)">2</span>
<span class="t" style="left:991px;top:383px;font-size:31.64px;font-weight:700;color:#efeff1;-webkit-text-stroke:0.35px #efeff1;transform-origin:0 27.50px;transform:translate(0.39px,0) skewX(-16deg) scale(1.4357,1.0000)">,</span>
<span class="t" style="left:1000px;top:383px;font-size:31.64px;font-weight:700;color:#efeff1;-webkit-text-stroke:0.35px #efeff1;transform:translate(0.20px,0) scale(1.0889,1.0000)">8</span>
<span class="t" style="left:1018px;top:383px;font-size:31.64px;font-weight:700;color:#efeff1;-webkit-text-stroke:0.35px #efeff1;transform:translate(0.30px,0) scale(1.0889,1.0000)">8</span>
<span class="t" style="left:1036px;top:383px;font-size:31.64px;font-weight:700;color:#efeff1;-webkit-text-stroke:0.35px #efeff1;transform:translate(0.42px,0) scale(1.0585,1.0000)">5</span>
<span class="t" style="left:1052px;top:383px;font-size:31.64px;font-weight:700;color:#efeff1;-webkit-text-stroke:0.35px #efeff1;transform:translate(0.72px,0) scale(1.2353,1.0000)">.</span>
<span class="t" style="left:1060px;top:383px;font-size:31.64px;font-weight:700;color:#efeff1;-webkit-text-stroke:0.35px #efeff1;transform:translate(0.63px,0) scale(1.2905,1.0000)">0</span>
<span class="t" style="left:1081px;top:383px;font-size:31.64px;font-weight:700;color:#efeff1;-webkit-text-stroke:0.35px #efeff1;transform:translate(0.77px,0) scale(1.0585,1.0000)">5</span>
<span class="t" style="left:1235px;top:362px;font-size:15.07px;font-weight:400;color:#e4e4e8;transform:translate(0.29px,0) scale(1.1494,1.0000)">Utilisation</span>
<span class="t" style="left:1198px;top:383px;font-size:31.64px;font-weight:700;color:#efeff1;-webkit-text-stroke:0.35px #efeff1;transform:translate(0.81px,0) scale(1.1534,1.0000)">6</span>
<span class="t" style="left:1217px;top:383px;font-size:31.64px;font-weight:700;color:#efeff1;-webkit-text-stroke:0.35px #efeff1;transform:translate(0.48px,0) scale(1.2968,1.0000)">0</span>
<span class="t" style="left:1237px;top:383px;font-size:31.64px;font-weight:700;color:#efeff1;-webkit-text-stroke:0.35px #efeff1;transform:translate(0.39px,0) scale(1.2414,1.0000)">.</span>
<span class="t" style="left:1245px;top:383px;font-size:31.64px;font-weight:700;color:#efeff1;-webkit-text-stroke:0.35px #efeff1;transform:translate(0.52px,0) scale(1.0724,1.0000)">2</span>
<span class="t" style="left:1262px;top:383px;font-size:31.64px;font-weight:700;color:#efeff1;-webkit-text-stroke:0.35px #efeff1;transform:translate(0.85px,0) scale(1.2968,1.0000)">0</span>
<span class="t" style="left:1284px;top:383px;font-size:31.64px;font-weight:700;color:#efeff1;-webkit-text-stroke:0.35px #efeff1;transform:translate(0.47px,0) scale(0.9542,1.0000)">%</span>
<span class="t" style="left:1296px;top:335px;font-size:12.90px;font-weight:400;color:#ffffff;-webkit-text-stroke:0.30px #ffffff;transform:translate(0.24px,0) scale(1.0526,1.0000)">Insurance available</span>
<span class="t" style="left:111px;top:547px;font-size:25.29px;font-weight:700;color:#e9e9eb;-webkit-text-stroke:0.20px #e9e9eb;transform:translate(0.88px,0) scale(1.0704,1.0000)">w</span>
<span class="t" style="left:132px;top:547px;font-size:25.29px;font-weight:700;color:#e9e9eb;-webkit-text-stroke:0.20px #e9e9eb;transform:translate(0.79px,0) scale(0.7800,1.0000)">E</span>
<span class="t" style="left:144px;top:547px;font-size:25.29px;font-weight:700;color:#e9e9eb;-webkit-text-stroke:0.20px #e9e9eb;transform:translate(0.55px,0) scale(0.9822,1.0000)">T</span>
<span class="t" style="left:158px;top:547px;font-size:25.29px;font-weight:700;color:#e9e9eb;-webkit-text-stroke:0.20px #e9e9eb;transform:translate(0.95px,0) scale(1.0212,1.0000)">H</span>
<span class="t" style="left:655px;top:524px;font-size:14.64px;font-weight:400;color:#e4e4e8;transform:translate(0.30px,0) scale(0.9640,1.0000)">APY</span>
<span class="t" style="left:655px;top:544px;font-size:30.43px;font-weight:700;color:#efeff1;-webkit-text-stroke:0.90px #efeff1;transform:translate(0.44px,0) scale(0.6244,1.0000)">1</span>
<span class="t" style="left:664px;top:544px;font-size:31.21px;font-weight:700;color:#efeff1;-webkit-text-stroke:0.35px #efeff1;transform:translate(0.15px,0) scale(1.2577,1.0000)">.</span>
<span class="t" style="left:672px;top:544px;font-size:31.21px;font-weight:700;color:#efeff1;-webkit-text-stroke:0.35px #efeff1;transform:translate(0.29px,0) scale(1.0783,1.0000)">5</span>
<span class="t" style="left:690px;top:544px;font-size:31.21px;font-weight:700;color:#efeff1;-webkit-text-stroke:0.35px #efeff1;transform:translate(0.67px,0) scale(1.0387,1.0000)">4</span>
<span class="t" style="left:709px;top:544px;font-size:31.21px;font-weight:700;color:#efeff1;-webkit-text-stroke:0.35px #efeff1;transform:translate(0.06px,0) scale(0.9675,1.0000)">%</span>
<span class="t" style="left:895px;top:521px;font-size:14.35px;font-weight:400;color:#e4e4e8;transform:translate(0.02px,0) scale(0.9784,1.0000)">TVL</span>
<span class="t" style="left:895px;top:541px;font-size:31.64px;font-weight:700;color:#efeff1;-webkit-text-stroke:0.35px #efeff1;transform:translate(0.16px,0) scale(1.0145,1.0000)">$</span>
<span class="t" style="left:912px;top:541px;font-size:30.86px;font-weight:700;color:#efeff1;-webkit-text-stroke:0.90px #efeff1;transform:translate(0.62px,0) scale(0.6193,1.0000)">1</span>
<span class="t" style="left:921px;top:541px;font-size:31.64px;font-weight:700;color:#efeff1;-webkit-text-stroke:0.35px #efeff1;transform-origin:0 27.50px;transform:translate(0.02px,0) skewX(-16deg) scale(1.4505,1.0000)">,</span>
<span class="t" style="left:929px;top:541px;font-size:31.64px;font-weight:700;color:#efeff1;-webkit-text-stroke:0.35px #efeff1;transform:translate(0.88px,0) scale(1.1597,1.0000)">6</span>
<span class="t" style="left:949px;top:541px;font-size:31.64px;font-weight:700;color:#efeff1;-webkit-text-stroke:0.35px #efeff1;transform:translate(0.51px,0) scale(1.0300,1.0000)">4</span>
<span class="t" style="left:967px;top:541px;font-size:30.86px;font-weight:700;color:#efeff1;-webkit-text-stroke:0.90px #efeff1;transform:translate(0.57px,0) scale(0.6193,1.0000)">1</span>
<span class="t" style="left:975px;top:541px;font-size:31.64px;font-weight:700;color:#efeff1;-webkit-text-stroke:0.35px #efeff1;transform-origin:0 27.50px;transform:translate(0.98px,0) skewX(-16deg) scale(1.4505,1.0000)">,</span>
<span class="t" style="left:984px;top:541px;font-size:31.64px;font-weight:700;color:#efeff1;-webkit-text-stroke:0.35px #efeff1;transform:translate(0.84px,0) scale(1.1597,1.0000)">6</span>
<span class="t" style="left:1003px;top:541px;font-size:31.64px;font-weight:700;color:#efeff1;-webkit-text-stroke:0.35px #efeff1;transform:translate(0.76px,0) scale(1.1001,1.0000)">8</span>
<span class="t" style="left:1021px;top:541px;font-size:31.64px;font-weight:700;color:#efeff1;-webkit-text-stroke:0.35px #efeff1;transform:translate(0.71px,0) scale(1.0937,1.0000)">7</span>
<span class="t" style="left:1038px;top:541px;font-size:31.64px;font-weight:700;color:#efeff1;-webkit-text-stroke:0.35px #efeff1;transform:translate(0.24px,0) scale(1.2481,1.0000)">.</span>
<span class="t" style="left:1046px;top:541px;font-size:31.64px;font-weight:700;color:#efeff1;-webkit-text-stroke:0.35px #efeff1;transform:translate(0.24px,0) scale(1.3038,1.0000)">0</span>
<span class="t" style="left:1068px;top:541px;font-size:31.64px;font-weight:700;color:#efeff1;-webkit-text-stroke:0.35px #efeff1;transform:translate(0.27px,0) scale(1.0300,1.0000)">4</span>
<span class="t" style="left:894px;top:579px;font-size:15.94px;font-weight:400;color:#e4e4e8;transform:translate(0.56px,0) scale(1.1541,1.0000)">Ξ600.6339</span>
<span class="t" style="left:1235px;top:520px;font-size:15.07px;font-weight:400;color:#e4e4e8;transform:translate(0.29px,0) scale(1.1494,1.0000)">Utilisation</span>
<span class="t" style="left:1209px;top:541px;font-size:30.86px;font-weight:700;color:#efeff1;-webkit-text-stroke:0.90px #efeff1;transform:translate(0.32px,0) scale(0.6257,1.0000)">1</span>
<span class="t" style="left:1219px;top:541px;font-size:31.64px;font-weight:700;color:#efeff1;-webkit-text-stroke:0.35px #efeff1;transform:translate(0.43px,0) scale(1.1716,1.0000)">9</span>
<span class="t" style="left:1237px;top:541px;font-size:31.64px;font-weight:700;color:#efeff1;-webkit-text-stroke:0.35px #efeff1;transform:translate(0.24px,0) scale(1.2609,1.0000)">.</span>
<span class="t" style="left:1245px;top:541px;font-size:31.64px;font-weight:700;color:#efeff1;-webkit-text-stroke:0.35px #efeff1;transform:translate(0.44px,0) scale(1.1716,1.0000)">9</span>
<span class="t" style="left:1264px;top:541px;font-size:31.64px;font-weight:700;color:#efeff1;-webkit-text-stroke:0.35px #efeff1;transform:translate(0.51px,0) scale(1.1716,1.0000)">6</span>
<span class="t" style="left:1284px;top:541px;font-size:31.64px;font-weight:700;color:#efeff1;-webkit-text-stroke:0.35px #efeff1;transform:translate(0.05px,0) scale(0.9692,1.0000)">%</span>
<span class="t" style="left:1296px;top:493px;font-size:12.90px;font-weight:400;color:#ffffff;-webkit-text-stroke:0.30px #ffffff;transform:translate(0.24px,0) scale(1.0526,1.0000)">Insurance available</span>
<span class="t" style="left:663px;top:267px;font-size:13.00px;font-weight:700;color:#0bea66;transform:translate(0.71px,0) scale(0.9416,1.0000)">+3x</span>
<span class="t" style="left:703px;top:267px;font-size:13.00px;font-weight:700;color:#0bea66;transform:translate(0.02px,0) scale(1.0039,1.0000)">rewards</span>
<span class="t" style="left:664px;top:425px;font-size:13.00px;font-weight:700;color:#0bea66;transform:translate(0.07px,0) scale(0.8296,1.0000)">+</span>
<span class="t" style="left:688px;top:425px;font-size:13.00px;font-weight:700;color:#0bea66;transform:translate(0.83px,0) scale(0.9915,1.0000)">rewards</span>
<span class="t" style="left:664px;top:583px;font-size:13.00px;font-weight:700;color:#0bea66;transform:translate(0.07px,0) scale(0.8296,1.0000)">+</span>
<span class="t" style="left:688px;top:583px;font-size:13.00px;font-weight:700;color:#0bea66;transform:translate(0.83px,0) scale(0.9915,1.0000)">rewards</span>
</body></html>
